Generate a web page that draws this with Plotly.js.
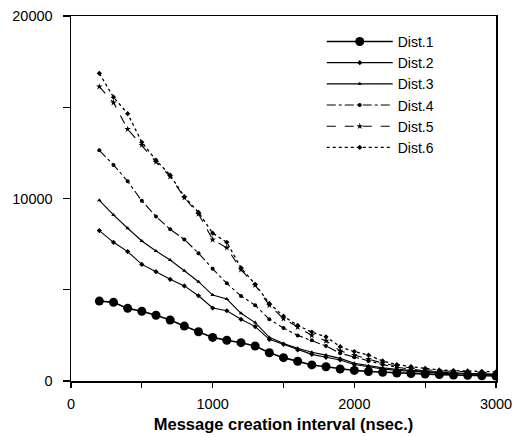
<!DOCTYPE html>
<html>
<head>
<meta charset="utf-8">
<script src="https://cdn.plot.ly/plotly-3.0.1.min.js"></script>
<style>html,body{margin:0;padding:0;background:#fff;}#chart{width:518px;height:437px;}</style>
</head>
<body>
<div id="chart"></div>
<script>
const xValues = [200,300,400,500,600,700,800,900,1000,1100,1200,1300,1400,1500,1600,1700,1800,1900,2000,2100,2200,2300,2400,2500,2600,2700,2800,2900,3000];

const dist1 = [4380,4310,3980,3820,3600,3340,3010,2700,2390,2230,2100,1920,1550,1280,1080,880,780,660,580,520,480,440,410,380,350,330,310,290,270];
const dist2 = [8240,7600,7090,6390,5990,5570,5210,4670,4000,3850,3380,2980,2280,2010,1700,1460,1300,1150,900,760,660,580,520,470,430,400,380,360,340];
const dist3 = [9900,9100,8370,7670,7120,6630,6040,5440,4710,4490,3710,3200,2390,2060,1790,1580,1420,1240,970,830,720,640,570,510,470,440,420,400,380];
const dist4 = [12640,11840,10940,9870,9020,8310,7760,7000,6150,5350,4660,4150,3380,2900,2500,2230,1920,1520,1300,1100,900,750,640,550,480,430,390,360,330];
const dist5 = [16130,15250,13800,12930,12000,11200,10050,9150,7750,7300,6100,5250,4150,3420,2950,2500,2200,1650,1420,1200,980,820,700,620,560,520,490,470,450];
const dist6 = [16860,15550,14650,13080,12100,11280,10100,9240,8100,7600,6200,5300,4250,3550,3050,2680,2420,1880,1610,1420,1100,900,790,700,600,570,550,530,500];

const seriesNames = ['Dist.1','Dist.2','Dist.3','Dist.4','Dist.5','Dist.6'];

const xTickVals = [0,500,1000,1500,2000,2500,3000];
const xTickText = ['0','','1000','','2000','','3000'];
const yTickVals = [0,5000,10000,15000,20000];
const yTickText = ['0','','10000','','20000'];

const styles = [
  {dash:'solid', width:1.6, symbol:'circle', size:9},
  {dash:'solid', width:1.1, symbol:'diamond', size:4},
  {dash:'solid', width:1.1, symbol:'triangle-up', size:4},
  {dash:'dashdot', width:1.1, symbol:'circle', size:4},
  {dash:'dash', width:1.1, symbol:'star', size:5},
  {dash:'dot', width:1.3, symbol:'diamond', size:4}
];
const data = [dist1,dist2,dist3,dist4,dist5,dist6];

const traces = data.map((ys,i)=>({
  x: xValues, y: ys, name: seriesNames[i], type:'scatter', mode:'lines+markers',
  line:{color:'#000', width:styles[i].width, dash:styles[i].dash},
  marker:{color:'#000', symbol:styles[i].symbol, size:styles[i].size}
}));

const font = {family:'"Liberation Sans", Arial, sans-serif', color:'#000'};

const layout = {
  width:518, height:437,
  margin:{l:71, r:22, t:16, b:56},
  paper_bgcolor:'#fff', plot_bgcolor:'#fff',
  font: Object.assign({size:14}, font),
  showlegend:true,
  legend:{x:0.59, y:0.973, xanchor:'left', yanchor:'top', bgcolor:'rgba(0,0,0,0)',
          itemwidth:66, font:Object.assign({size:14}, font), tracegroupgap:0},
  xaxis:{range:[0,3000], tickmode:'array', tickvals:xTickVals, ticktext:xTickText,
         ticks:'outside', ticklen:5, tickwidth:1.2, tickcolor:'#000',
         showline:true, linecolor:'#000', linewidth:1.5, mirror:true,
         showgrid:false, zeroline:false, ticklabelstandoff:4,
         tickfont:Object.assign({size:14.5}, font),
         title:{text:'<b>Message creation interval (nsec.)</b>', font:Object.assign({size:16.5}, font), standoff:7}},
  yaxis:{range:[0,20000], tickmode:'array', tickvals:yTickVals, ticktext:yTickText,
         ticks:'outside', ticklen:7, tickwidth:1.2, tickcolor:'#000',
         showline:true, linecolor:'#000', linewidth:1.5, mirror:true,
         showgrid:false, zeroline:false, ticklabelstandoff:7,
         tickfont:Object.assign({size:14.5}, font)}
};

Plotly.newPlot('chart', traces, layout, {displayModeBar:false, staticPlot:true});
</script>
</body>
</html>
